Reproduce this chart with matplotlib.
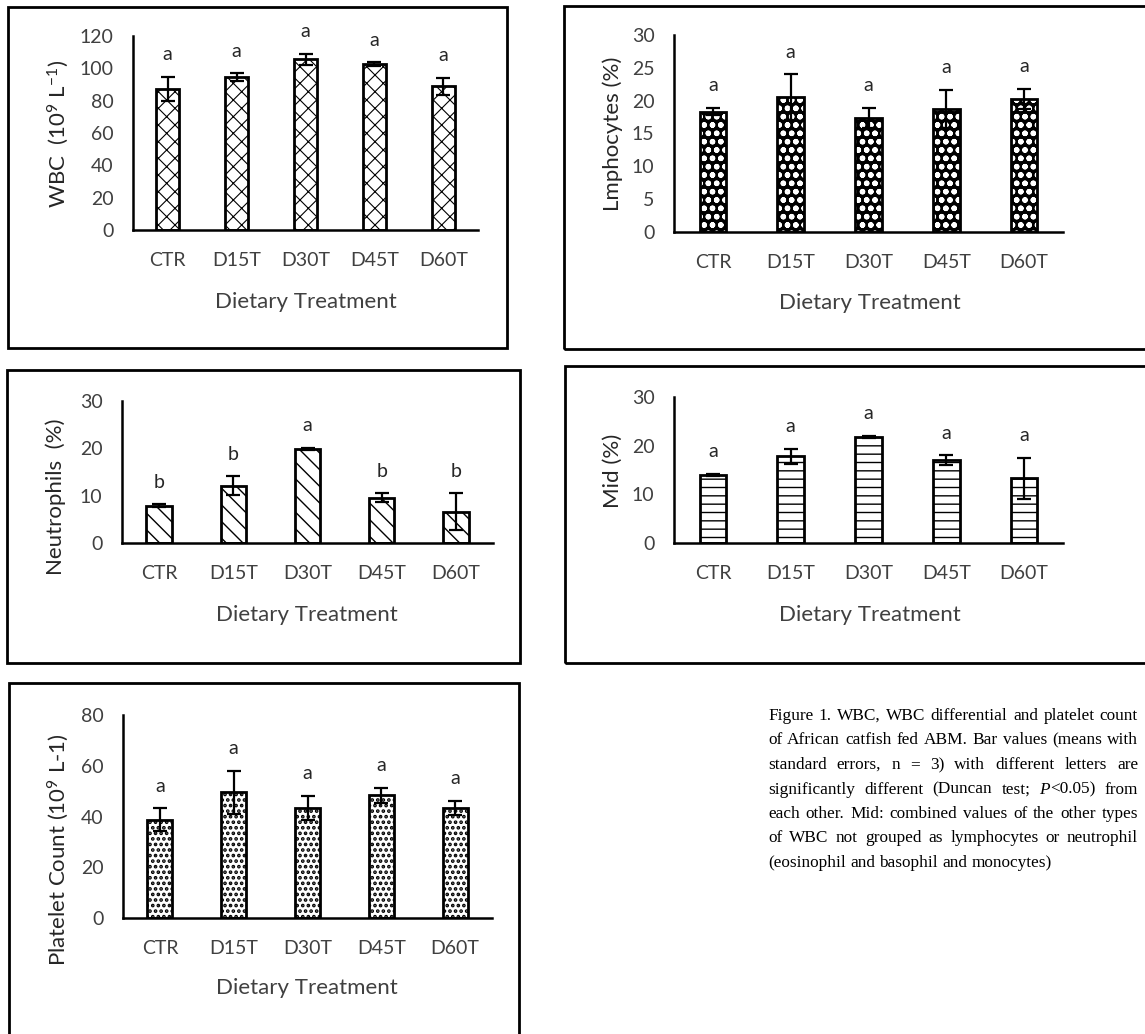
import matplotlib
matplotlib.use("Agg")
import matplotlib.pyplot as plt
from matplotlib.patches import Rectangle

W, H = 1145, 1034
DPI = 100

plt.rcParams['font.family'] = ['Lato', 'DejaVu Sans']
plt.rcParams['mathtext.fontset'] = 'custom'
plt.rcParams['mathtext.rm'] = 'Lato'
plt.rcParams['mathtext.it'] = 'Lato:italic'
plt.rcParams['hatch.linewidth'] = 1.0

treatments = ['CTR', 'D15T', 'D30T', 'D45T', 'D60T']

# means and standard errors
wbc_mean = [87.2, 94.4, 105.6, 102.7, 89.0]
wbc_se = [7.6, 2.5, 3.3, 1.0, 5.2]
wbc_letters = ['a', 'a', 'a', 'a', 'a']

lym_mean = [18.35, 20.5, 17.4, 18.7, 20.3]
lym_se = [0.55, 3.5, 1.5, 2.9, 1.5]
lym_letters = ['a', 'a', 'a', 'a', 'a']

neu_mean = [7.9, 12.1, 19.9, 9.6, 6.6]
neu_se = [0.25, 2.0, 0.15, 0.9, 3.9]
neu_letters = ['b', 'b', 'a', 'b', 'b']

mid_mean = [14.0, 17.8, 21.8, 17.0, 13.3]
mid_se = [0.2, 1.6, 0.15, 1.0, 4.2]
mid_letters = ['a', 'a', 'a', 'a', 'a']

plat_mean = [38.8, 49.5, 43.4, 48.4, 43.4]
plat_se = [4.4, 8.4, 4.8, 2.9, 2.7]
plat_letters = ['a', 'a', 'a', 'a', 'a']

caption_lines = [
    "Figure 1. WBC, WBC differential and platelet count",
    "of African catfish fed ABM. Bar values (means with",
    "standard errors, n = 3) with different letters are",
    "significantly different (Duncan test; P<0.05) from",
    "each other. Mid: combined values of the other types",
    "of WBC not grouped as lymphocytes or neutrophil",
    "(eosinophil and basophil and monocytes)",
]

fig = plt.figure(figsize=(W / DPI, H / DPI), dpi=DPI)


def fx(x):
    return x / W


def fy(y):
    return 1 - y / H


def box(x0, y0, x1, y1):
    fig.patches.append(Rectangle((fx(x0), fy(y1)), (x1 - x0) / W, (y1 - y0) / H,
                                 transform=fig.transFigure, fill=False,
                                 edgecolor='black', linewidth=2))


panels = [
    dict(mean=wbc_mean, se=wbc_se, letters=wbc_letters, ax=(133, 478, 36, 230),
         ylim=120, ystep=20, hatch='xx', hlw=0.8, dark=False,
         ylabel='WBC  (10$^{9}$ L$^{-1}$)', ylab_xy=(58, 134), xlab_xy=(306, 302),
         box=(8, 7, 507, 348)),
    dict(mean=lym_mean, se=lym_se, letters=lym_letters, ax=(674, 1063, 35, 232),
         ylim=30, ystep=5, hatch='oo', hlw=1.6, dark=True,
         ylabel='Lmphocytes (%)', ylab_xy=(613, 134), xlab_xy=(870, 303),
         box=(564, 6, 1150, 349)),
    dict(mean=neu_mean, se=neu_se, letters=neu_letters, ax=(122, 493, 401, 543),
         ylim=30, ystep=10, hatch='\\\\', hlw=1.0, dark=False,
         ylabel='Neutrophils  (%)', ylab_xy=(56, 497), xlab_xy=(307, 615),
         box=(7, 370, 520, 663)),
    dict(mean=mid_mean, se=mid_se, letters=mid_letters, ax=(674, 1063, 397, 543),
         ylim=30, ystep=10, hatch='--', hlw=1.0, dark=False,
         ylabel='Mid (%)', ylab_xy=(613, 471), xlab_xy=(870, 615),
         box=(565, 366, 1150, 663)),
    dict(mean=plat_mean, se=plat_se, letters=plat_letters, ax=(123, 492, 715, 918),
         ylim=80, ystep=20, hatch='...', hlw=1.8, dark=False,
         ylabel='Platelet Count (10$^{9}$ L-1)', ylab_xy=(58, 850), xlab_xy=(307, 988),
         box=(9, 683, 519, 1040)),
]

x = list(range(len(treatments)))
for p in panels:
    l, r, t, b = p['ax']
    ax = fig.add_axes([fx(l), fy(b), (r - l) / W, (b - t) / H])
    if p['dark']:
        bars = ax.bar(x, p['mean'], width=0.34, color='black', edgecolor='white',
                      linewidth=0, hatch=p['hatch'], zorder=2)
        ax.bar(x, p['mean'], width=0.34, fill=False, edgecolor='black',
               linewidth=2, zorder=3)
    else:
        bars = ax.bar(x, p['mean'], width=0.34, color='white', edgecolor='black',
                      linewidth=2, hatch=p['hatch'], zorder=2)
    for bar in bars:
        if hasattr(bar, 'set_hatch_linewidth'):
            bar.set_hatch_linewidth(p['hlw'])
    ax.errorbar(x, p['mean'], yerr=p['se'], fmt='none', ecolor='black',
                elinewidth=1.6, capsize=5, capthick=1.6, zorder=4)
    for i, (m, s, let) in enumerate(zip(p['mean'], p['se'], p['letters'])):
        ax.annotate(let, (i, m + s), xytext=(0, 16), textcoords='offset points',
                    ha='center', va='center', fontsize=14, color='#262626')
    ax.set_xlim(-0.5, len(treatments) - 0.5)
    ax.set_ylim(0, p['ylim'])
    ax.set_yticks(range(0, p['ylim'] + 1, p['ystep']))
    ax.set_xticks(x)
    ax.set_xticklabels(treatments)
    ax.tick_params(axis='both', length=0, labelsize=14, colors='#404040')
    ax.tick_params(axis='x', pad=16)
    ax.tick_params(axis='y', pad=14)
    for side in ('top', 'right'):
        ax.spines[side].set_visible(False)
    for side in ('left', 'bottom'):
        ax.spines[side].set_linewidth(1.8)
        ax.spines[side].set_color('black')
    ax.patch.set_alpha(0)
    fig.text(fx(p['ylab_xy'][0]), fy(p['ylab_xy'][1]), p['ylabel'], rotation=90,
             ha='center', va='center', fontsize=16, color='#262626')
    fig.text(fx(p['xlab_xy'][0]), fy(p['xlab_xy'][1]), 'Dietary Treatment',
             ha='center', va='center', fontsize=16, color='#404040')
    box(*p['box'])

# justified caption in serif type
renderer = fig.canvas.get_renderer()
cap_left, cap_right = 768, 1138
cap_base, cap_step = 720, 24.5
serif = ['Liberation Serif', 'DejaVu Serif']


def word_parts(w):
    if w.startswith('P<'):
        return [('P', 'italic'), (w[1:], 'normal')]
    return [(w, 'normal')]


def measure(text, style, size):
    t = fig.text(0, 0, text, family=serif, style=style, fontsize=size)
    wpx = t.get_window_extent(renderer).width
    t.remove()
    return wpx


size = 12.4
space_w = measure('a a', 'normal', size) - measure('aa', 'normal', size)
for k, line in enumerate(caption_lines):
    words = line.split(' ')
    widths = [sum(measure(s, st, size) for s, st in word_parts(w)) for w in words]
    last = k == len(caption_lines) - 1
    if last:
        gap = space_w
    else:
        gap = (cap_right - cap_left - sum(widths)) / (len(words) - 1)
    xpos = cap_left
    ybase = cap_base + k * cap_step
    for w, wd in zip(words, widths):
        xx = xpos
        for s, st in word_parts(w):
            fig.text(fx(xx), fy(ybase), s, family=serif, style=st, fontsize=size,
                     ha='left', va='baseline', color='black')
            xx += measure(s, st, size)
        xpos += wd + gap

fig.savefig('out.png', dpi=DPI)
